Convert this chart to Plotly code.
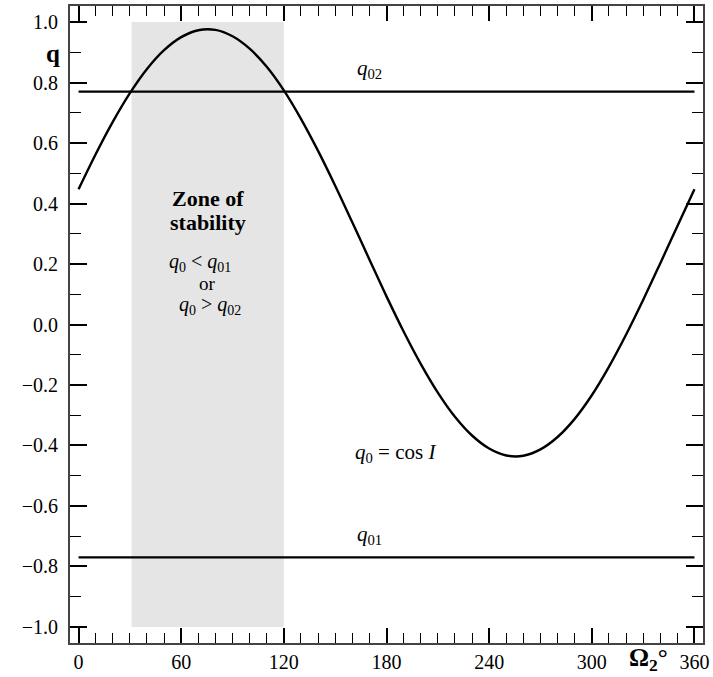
import plotly.graph_objects as go

# Node longitude Omega_2 (degrees)
omega2 = [0, 10, 20, 30, 40, 50, 60, 70, 80, 90, 100, 110, 120, 130, 140, 150, 160, 170, 180,
          190, 200, 210, 220, 230, 240, 250, 260, 270, 280, 290, 300, 310, 320, 330, 340, 350, 360]
q0 = [0.447, 0.563, 0.670, 0.765, 0.845, 0.907, 0.950, 0.973, 0.974, 0.953, 0.912, 0.852, 0.774,
      0.680, 0.574, 0.459, 0.338, 0.215, 0.093, -0.023, -0.130, -0.225, -0.305, -0.367, -0.410,
      -0.433, -0.434, -0.413, -0.372, -0.312, -0.234, -0.140, -0.034, 0.081, 0.202, 0.325, 0.447]
# Critical levels
q01 = -0.77
q02 = 0.77
line_x = [0, 360]
# Zone of stability bounds
zone_x = [31, 120]
zone_y = [-1.0, 1.0]

x_ticks = [0, 60, 120, 180, 240, 300, 360]
y_ticks = [-1.0, -0.8, -0.6, -0.4, -0.2, 0.0, 0.2, 0.4, 0.6, 0.8, 1.0]
y_ticktext = ["\u22121.0", "\u22120.8", "\u22120.6", "\u22120.4", "\u22120.2", "0.0",
              "0.2", "0.4", "0.6", "0.8", "1.0"]

FONT = "Liberation Serif"
fig = go.Figure()

fig.add_shape(type="rect", x0=zone_x[0], x1=zone_x[1], y0=zone_y[0], y1=zone_y[1],
              fillcolor="#e5e5e5", line=dict(width=0), layer="below")

fig.add_trace(go.Scatter(x=line_x, y=[q02, q02], mode="lines",
                         line=dict(color="black", width=2.2), showlegend=False))
fig.add_trace(go.Scatter(x=line_x, y=[q01, q01], mode="lines",
                         line=dict(color="black", width=2.2), showlegend=False))
fig.add_trace(go.Scatter(x=omega2, y=q0, mode="lines",
                         line=dict(color="black", width=2.4, shape="spline"), showlegend=False))

ann_font = dict(family=FONT, size=21, color="black")
def ann(x, y, text, **kw):
    d = dict(x=x, y=y, text=text, showarrow=False, font=ann_font)
    d.update(kw)
    fig.add_annotation(**d)

ann(170, 0.845, "<i>q</i><sub>02</sub>")
ann(170, -0.695, "<i>q</i><sub>01</sub>")
ann(185, -0.425, "<i>q</i><sub>0</sub> = cos <i>I</i>")
ann(75.5, 0.418, "<b>Zone of</b>", font=dict(family=FONT, size=22, color="black"))
ann(75.5, 0.338, "<b>stability</b>", font=dict(family=FONT, size=22, color="black"))
ann(71, 0.205, "<i>q</i><sub>0</sub> &lt; <i>q</i><sub>01</sub>", font=dict(family=FONT, size=20, color="black"))
ann(75.5, 0.135, "or", font=dict(family=FONT, size=19, color="black"))
ann(77, 0.062, "<i>q</i><sub>0</sub> &gt; <i>q</i><sub>02</sub>", font=dict(family=FONT, size=20, color="black"))
ann(-0.027, 0.895, "<b>q</b>", xref="paper", yref="y", xanchor="center",
    font=dict(family=FONT, size=25, color="black"))
ann(333, -0.026, "<b>Ω<sub>2</sub></b><b>°</b>", xref="x", yref="paper", yanchor="middle",
    font=dict(family=FONT, size=25, color="black"))

axis_common = dict(showgrid=False, zeroline=False, showline=True, linecolor="#444444", linewidth=2,
                   mirror="ticks", ticks="inside", tickcolor="black", tickwidth=1.5,
                   tickfont=dict(family=FONT, size=20, color="black"))

fig.update_xaxes(range=[-5, 365], tickvals=x_ticks,
                 ticktext=[str(v) for v in x_ticks],
                 ticklen=15, minor=dict(dtick=10, tick0=0, ticks="inside", ticklen=10,
                                        tickcolor="black", tickwidth=1.2),
                 **axis_common)
fig.update_yaxes(range=[-1.053, 1.053], tickvals=y_ticks, ticktext=y_ticktext,
                 ticklen=17, ticklabelstandoff=6,
                 minor=dict(dtick=0.1, tick0=0, ticks="inside", ticklen=11,
                            tickcolor="black", tickwidth=1.2),
                 **axis_common)

fig.update_layout(width=713, height=677, margin=dict(l=70, r=10, t=6, b=34, autoexpand=False),
                  plot_bgcolor="white", paper_bgcolor="white", font=dict(family=FONT))

fig.write_html("out.html", config={"displayModeBar": False},
               post_script="document.body.style.margin='0px';")
